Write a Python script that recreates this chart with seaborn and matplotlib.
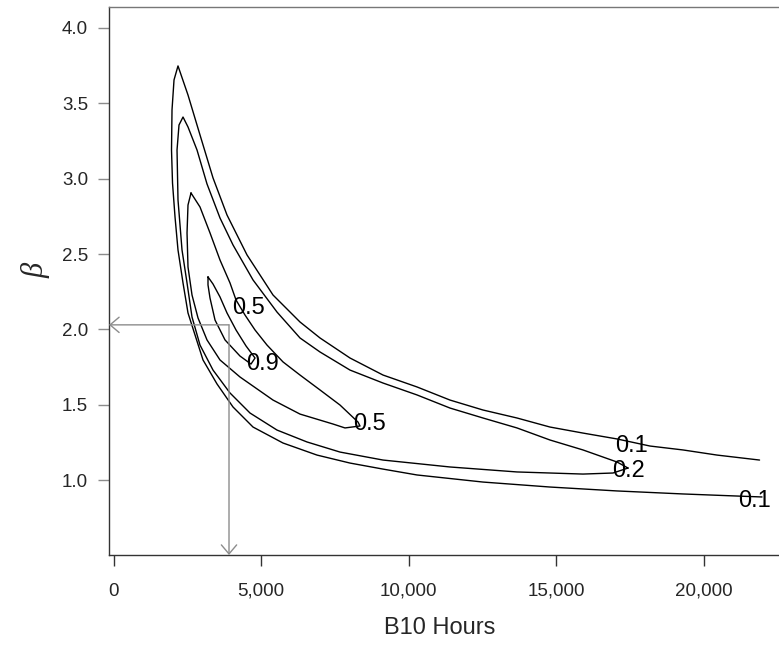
import numpy as np
import pandas as pd
import matplotlib
matplotlib.use("Agg")
import matplotlib.pyplot as plt
from matplotlib.ticker import FuncFormatter
import seaborn as sns

# contour lines (B10 hours, beta)
c01_x = [21900, 20460, 19305, 18186, 17068, 15915, 14796, 13678, 12525, 11407,
         10288, 9136, 8017, 7000, 6322, 5407, 4525, 3847, 3373, 2932, 2525, 2186,
         2051, 1983, 1966, 2000, 2085, 2186, 2356, 2525, 2763, 3034, 3508, 4051,
         4729, 5746, 6898, 8017, 9136, 10288, 12525, 14796, 17068, 19305, 21169, 21983]
c01_y = [1.133, 1.166, 1.200, 1.226, 1.273, 1.312, 1.352, 1.412, 1.465, 1.531,
         1.618, 1.697, 1.810, 1.943, 2.049, 2.228, 2.494, 2.759, 3.005, 3.290, 3.555, 3.748,
         3.655, 3.456, 3.190, 2.971, 2.746, 2.527, 2.308, 2.109, 1.963, 1.797, 1.638, 1.485,
         1.352, 1.246, 1.166, 1.113, 1.073, 1.034, 0.987, 0.954, 0.928, 0.908, 0.894, 0.888]

c02_x = [17441, 17068, 15915, 14796, 13678, 12525, 11407, 10288, 9136, 8017, 7000,
         6322, 5542, 4729, 4051, 3610, 3169, 2831, 2525, 2356,
         2220, 2153, 2186, 2322, 2492, 2661, 2932, 3373, 3949, 4627, 5542, 6559,
         7678, 9136, 11407, 13678, 15915, 16932, 17441]
c02_y = [1.080, 1.120, 1.200, 1.266, 1.346, 1.412, 1.478, 1.565, 1.644, 1.730, 1.850,
         1.943, 2.115, 2.328, 2.560, 2.739, 2.965, 3.190, 3.343, 3.409,
         3.356, 3.190, 2.859, 2.527, 2.308, 2.082, 1.896, 1.730, 1.578, 1.445, 1.332, 1.253,
         1.186, 1.133, 1.087, 1.054, 1.040, 1.047, 1.080]

c05_x = [2627, 2932, 3271, 3610, 3949, 4153, 4458, 4797, 5203, 5746, 6322, 7000,
         7678, 8288, 8356, 7847, 7441, 6322, 5407, 4288, 3610, 3169, 2864, 2661,
         2525, 2492, 2525, 2627]
c05_y = [2.905, 2.812, 2.640, 2.460, 2.308, 2.195, 2.095, 1.996, 1.896, 1.784, 1.697, 1.598,
         1.498, 1.385, 1.359, 1.346, 1.372, 1.438, 1.531, 1.684, 1.797, 1.930, 2.076, 2.228,
         2.414, 2.640, 2.825, 2.905]

c09_x = [3203, 3373, 3610, 3847, 4153, 4492, 4797, 4661, 4288, 3780, 3441, 3271, 3203, 3203]
c09_y = [2.348, 2.301, 2.215, 2.109, 1.996, 1.890, 1.810, 1.770, 1.823, 1.930, 2.062, 2.208, 2.295, 2.348]

# contour labels
lab_text = ["0.5", "0.9", "0.5", "0.1", "0.2", "0.1"]
lab_x = [4559, 5034, 8661, 17576, 17441, 21712]
lab_y = [2.142, 1.770, 1.372, 1.226, 1.060, 0.861]

# reading arrows
read_x = 3915
read_y = 2.03

x_ticks = [0, 5000, 10000, 15000, 20000]
y_ticks = [1.0, 1.5, 2.0, 2.5, 3.0, 3.5, 4.0]

frames = []
for name, xs, ys in [("0.1", c01_x, c01_y), ("0.2", c02_x, c02_y),
                     ("0.5", c05_x, c05_y), ("0.9", c09_x, c09_y)]:
    frames.append(pd.DataFrame({"b10": xs, "beta": ys, "level": name}))
df = pd.concat(frames, ignore_index=True)

sns.set_style("white")
plt.rcParams["font.family"] = ["Liberation Sans", "DejaVu Sans"]

fig = plt.figure(figsize=(7.79, 6.47), dpi=100)
ax = fig.add_axes([109 / 779, 92 / 647, 683 / 779, 548 / 647])

sns.lineplot(data=df, x="b10", y="beta", units="level", estimator=None,
             sort=False, color="black", lw=1.0, legend=False, ax=ax)

for t, x, y in zip(lab_text, lab_x, lab_y):
    ax.text(x, y, t, fontsize=17, ha="center", va="center", color="black")

xmin, xmax = -153, 23000
ymin, ymax = 0.503, 4.139
ax.set_xlim(xmin, xmax)
ax.set_ylim(ymin, ymax)

arrow = dict(arrowstyle="->,head_length=0.65,head_width=0.55", color="#8c8c8c",
             lw=1.0, shrinkA=0, shrinkB=0)
ax.annotate("", xy=(xmin, read_y), xytext=(read_x, read_y), arrowprops=arrow)
ax.annotate("", xy=(read_x, ymin), xytext=(read_x, read_y), arrowprops=arrow)

ax.set_xticks(x_ticks)
ax.set_yticks(y_ticks)
ax.xaxis.set_major_formatter(FuncFormatter(lambda v, p: f"{v:,.0f}"))
ax.yaxis.set_major_formatter(FuncFormatter(lambda v, p: f"{v:.1f}"))
ax.tick_params(axis="x", direction="out", length=8, width=1, color="#333333",
               labelsize=13.5, pad=12, bottom=True)
ax.tick_params(axis="y", direction="out", length=8, width=1, color="#8c8c8c",
               labelsize=13.5, pad=7, left=True)

for s in ["left", "bottom"]:
    ax.spines[s].set_color("#333333")
    ax.spines[s].set_linewidth(1.0)
ax.spines["top"].set_color("#777777")
ax.spines["top"].set_linewidth(1.0)

ax.set_xlabel("B10 Hours", fontsize=17)
ax.set_ylabel("β", fontsize=22, family=["Liberation Serif", "DejaVu Serif"],
              style="italic")
ax.xaxis.set_label_coords((440 - 109) / 683, (555 - 628) / 548)
ax.xaxis.label.set_va("center")
ax.yaxis.set_label_coords((36 - 109) / 683, (555 - 270) / 548)
ax.yaxis.label.set_va("center")

fig.savefig("out.png", dpi=100)
